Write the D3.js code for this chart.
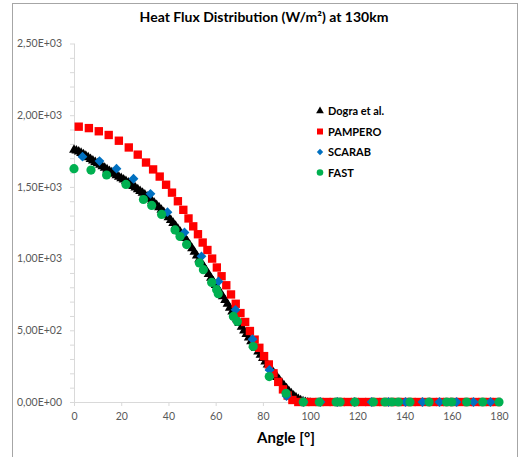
<!DOCTYPE html>
<html>
<head>
<meta charset="utf-8">
<script src="https://cdn.jsdelivr.net/npm/d3@7"></script>
<style>
    body { margin: 0; background: #fff; }
    svg { display: block; font-family: Lato, 'Open Sans', sans-serif; }
</style>
</head>
<body>
<div id="chart"></div>
<script>
// Chart texts
const title = 'Heat Flux Distribution (W/m\u00B2) at 130km';
const xTitle = 'Angle [\u00B0]';
const seriesNames = ['Dogra et al.', 'PAMPERO', 'SCARAB', 'FAST'];

// Axis ticks
const xTicks = [0, 20, 40, 60, 80, 100, 120, 140, 160, 180];
const yTicks = [0, 500, 1000, 1500, 2000, 2500];
const yMinorTicks = [100, 200, 300, 400, 600, 700, 800, 900, 1100, 1200, 1300, 1400,
    1600, 1700, 1800, 1900, 2100, 2200, 2300, 2400];

// Dogra et al.
const dograAngle = [0, 1, 2, 3, 4, 5, 6, 7, 8, 9, 10, 11, 12, 13, 14, 15, 16, 17, 18, 19,
    20, 21, 22, 23, 24, 25, 26, 27, 28, 29, 30, 31, 32, 33, 34, 35, 36, 37, 38, 39,
    40, 41, 42, 43, 44, 45, 46, 47, 48, 49, 50, 51, 52, 53, 54, 55, 56, 57, 58, 59,
    60, 61, 62, 63, 64, 65, 66, 67, 68, 69, 70, 71, 72, 73, 74, 75, 76, 77, 78, 79,
    80, 81, 82, 83, 84, 85, 86, 87, 88, 89, 90, 91, 92, 93, 94, 95, 96, 97, 98, 99, 100];
const dograFlux = [1765, 1760, 1752, 1743, 1733, 1723, 1712, 1701, 1690, 1680,
    1670, 1660, 1650, 1639, 1628, 1617, 1607, 1597, 1587, 1577,
    1567, 1557, 1547, 1536, 1525, 1513, 1501, 1489, 1477, 1465,
    1452, 1438, 1424, 1410, 1395, 1380, 1364, 1347, 1330, 1312,
    1294, 1275, 1255, 1235, 1214, 1193, 1171, 1149, 1126, 1102,
    1078, 1053, 1028, 1002, 977, 951, 925, 899, 873, 847,
    821, 795, 769, 743, 717, 691, 664, 637, 610, 583,
    557, 531, 505, 480, 455, 430, 406, 382, 358, 335,
    312, 289, 267, 245, 223, 202, 181, 160, 140, 120,
    101, 83, 66, 51, 38, 27, 18, 11, 6, 3, 1];

// PAMPERO
const pamperoAngle = [2, 6.3, 10.5, 14.7, 19, 23.2, 27, 30.5, 33.5, 36.3, 39, 41.5, 44, 46.3,
    48.5, 50.5, 52.5, 54.5, 56.5, 58.5, 60.5, 62.5, 64.5, 66.5, 68.5, 70.5, 72.5, 74.5,
    76.5, 78.5, 80.5, 82.5, 84.5, 86.5, 88.5, 90.5, 92.5, 95, 98, 101, 104, 107, 110,
    113, 116, 119, 122, 125, 128, 131, 134, 137, 140, 143, 146, 149, 152, 155, 158,
    161, 164, 167, 170, 173, 176, 179];
const pamperoFlux = [1920, 1910, 1888, 1862, 1822, 1775, 1725, 1670, 1622, 1572, 1515, 1460, 1400, 1340,
    1280, 1225, 1170, 1112, 1060, 1000, 938, 877, 814, 750, 685, 620, 558, 495,
    435, 378, 320, 262, 200, 140, 88, 45, 14, 0, 0, 0, 0, 0, 0,
    0, 0, 0, 0, 0, 0, 0, 0, 0, 0, 0, 0, 0, 0, 0, 0,
    0, 0, 0, 0, 0, 0, 0];

// SCARAB
const scarabAngle = [3.6, 10.8, 18, 25.2, 32.4, 39.6, 46.8, 54, 61.2, 68.4, 75.6, 82.8, 90,
    97.2, 104.4, 111.6, 118.8, 126, 133.2, 140.4, 147.6, 154.8, 162, 169.2, 176.4];
const scarabFlux = [1711, 1680, 1627, 1557, 1452, 1324, 1182, 1016, 841, 643, 438, 224, 42,
    0, 0, 0, 0, 0, 0, 0, 0, 0, 0, 0, 0];

// FAST
const fastAngle = [0, 7.2, 13.8, 22, 29.4, 32.9, 37.1, 42.8, 44.9, 47.7, 53.1, 54.8, 58.3,
    60.4, 61.1, 67.5, 69.2, 75.9, 82.7, 89.8, 97.1, 103.9, 111, 112.7, 119, 126.8,
    131.7, 134.6, 137.4, 142.3, 150.4, 157.8, 160, 166.3, 173.1, 180];
const fastFlux = [1627, 1617, 1583, 1517, 1412, 1371, 1308, 1200, 1154, 1098, 970, 923, 834,
    783, 755, 597, 562, 387, 177, 61, 0, 0, 0, 0, 0, 0,
    0, 0, 0, 0, 0, 0, 0, 0, 0, 0];

// Sizes
const width = 520, height = 457;

const svg = d3.select('#chart')
    .append('svg')
    .attr('width', width)
    .attr('height', height);

// Chart border
svg.append('rect')
    .attr('x', 12.5)
    .attr('y', 3.5)
    .attr('width', 505)
    .attr('height', 480)
    .style('fill', '#fff')
    .style('stroke', '#a6a6a6')
    .style('stroke-width', '1px');

// Scales
const x = d3.scaleLinear().domain([0, 180]).range([74, 499]);
const y = d3.scaleLinear().domain([0, 2500]).range([402, 43.5]);

// Number format like 2,50E+03
function sciFormat(v) {
    const parts = v.toExponential(2).split('e');
    const exp = parseInt(parts[1], 10);
    const sign = exp < 0 ? '-' : '+';
    return parts[0].replace('.', ',') + 'E' + sign + String(Math.abs(exp)).padStart(2, '0');
}

// Y axis
const yAxis = svg.append('g')
    .attr('transform', 'translate(' + x(0) + ',0)')
    .call(d3.axisLeft(y).tickValues(yTicks).tickSize(4).tickPadding(8).tickFormat(sciFormat));
svg.append('g')
    .attr('transform', 'translate(' + x(0) + ',0)')
    .call(d3.axisLeft(y).tickValues(yMinorTicks).tickSize(4).tickFormat(''))
    .call(g => g.select('.domain').remove());

// X axis
const xAxis = svg.append('g')
    .attr('transform', 'translate(0,' + y(0) + ')')
    .call(d3.axisBottom(x).tickValues(xTicks).tickSize(4).tickPadding(7).tickSizeOuter(0));

svg.selectAll('.domain').style('stroke', '#d9d9d9');
yAxis.select('.domain').attr('d', 'M0.5,' + y(2500) + 'V' + y(0));
xAxis.select('.domain').attr('d', 'M' + x(0) + ',0.5H' + x(180));
svg.selectAll('.tick line').style('stroke', '#d9d9d9');
svg.selectAll('.tick text')
    .style('fill', '#595959')
    .style('font-size', '10.5px')
    .style('font-family', 'Lato, sans-serif');

// Marker shapes
const triangle = d3.symbol().type(d3.symbolTriangle).size(42);
const square = d3.symbol().type(d3.symbolSquare).size(70);
function diamondPath(r) {
    return 'M0,' + (-r) + 'L' + r + ',0L0,' + r + 'L' + (-r) + ',0Z';
}

// Dogra et al. points
svg.append('g').selectAll('path')
    .data(dograAngle)
    .enter()
    .append('path')
    .attr('d', triangle)
    .attr('transform', (d, i) => 'translate(' + x(d) + ',' + (y(dograFlux[i]) + 1) + ')')
    .style('fill', '#000');

// PAMPERO points
svg.append('g').selectAll('path')
    .data(pamperoAngle)
    .enter()
    .append('path')
    .attr('d', square)
    .attr('transform', (d, i) => 'translate(' + x(d) + ',' + y(pamperoFlux[i]) + ')')
    .style('fill', '#ff0000');

// SCARAB points
svg.append('g').selectAll('path')
    .data(scarabAngle)
    .enter()
    .append('path')
    .attr('d', diamondPath(4.9))
    .attr('transform', (d, i) => 'translate(' + x(d) + ',' + y(scarabFlux[i]) + ')')
    .style('fill', '#0070c0');

// FAST points
svg.append('g').selectAll('circle')
    .data(fastAngle)
    .enter()
    .append('circle')
    .attr('cx', d => x(d))
    .attr('cy', (d, i) => y(fastFlux[i]))
    .attr('r', 4.6)
    .style('fill', '#00b050');

// Title
svg.append('text')
    .attr('x', 264)
    .attr('y', 22)
    .attr('text-anchor', 'middle')
    .style('font-size', '14px')
    .style('font-weight', 'bold')
    .style('fill', '#000')
    .text(title);

// X axis title
svg.append('text')
    .attr('x', 286)
    .attr('y', 443)
    .attr('text-anchor', 'middle')
    .style('font-size', '15px')
    .style('font-weight', 'bold')
    .style('fill', '#000')
    .text(xTitle);

// Legend
const legendMarkers = [
    d3.symbol().type(d3.symbolTriangle).size(26)(),
    d3.symbol().type(d3.symbolSquare).size(36)(),
    diamondPath(3.2),
    d3.symbol().type(d3.symbolCircle).size(34)()
];
const legendColors = ['#000', '#ff0000', '#0070c0', '#00b050'];
const legend = svg.append('g');
seriesNames.forEach((name, i) => {
    const ly = 111 + i * 20.5;
    legend.append('path')
        .attr('d', legendMarkers[i])
        .attr('transform', 'translate(320,' + ly + ')')
        .style('fill', legendColors[i]);
    legend.append('text')
        .attr('x', 328)
        .attr('y', ly + 4)
        .style('font-size', '11px')
        .style('font-weight', 'bold')
        .style('fill', '#000')
        .text(name);
});
</script>
</body>
</html>
